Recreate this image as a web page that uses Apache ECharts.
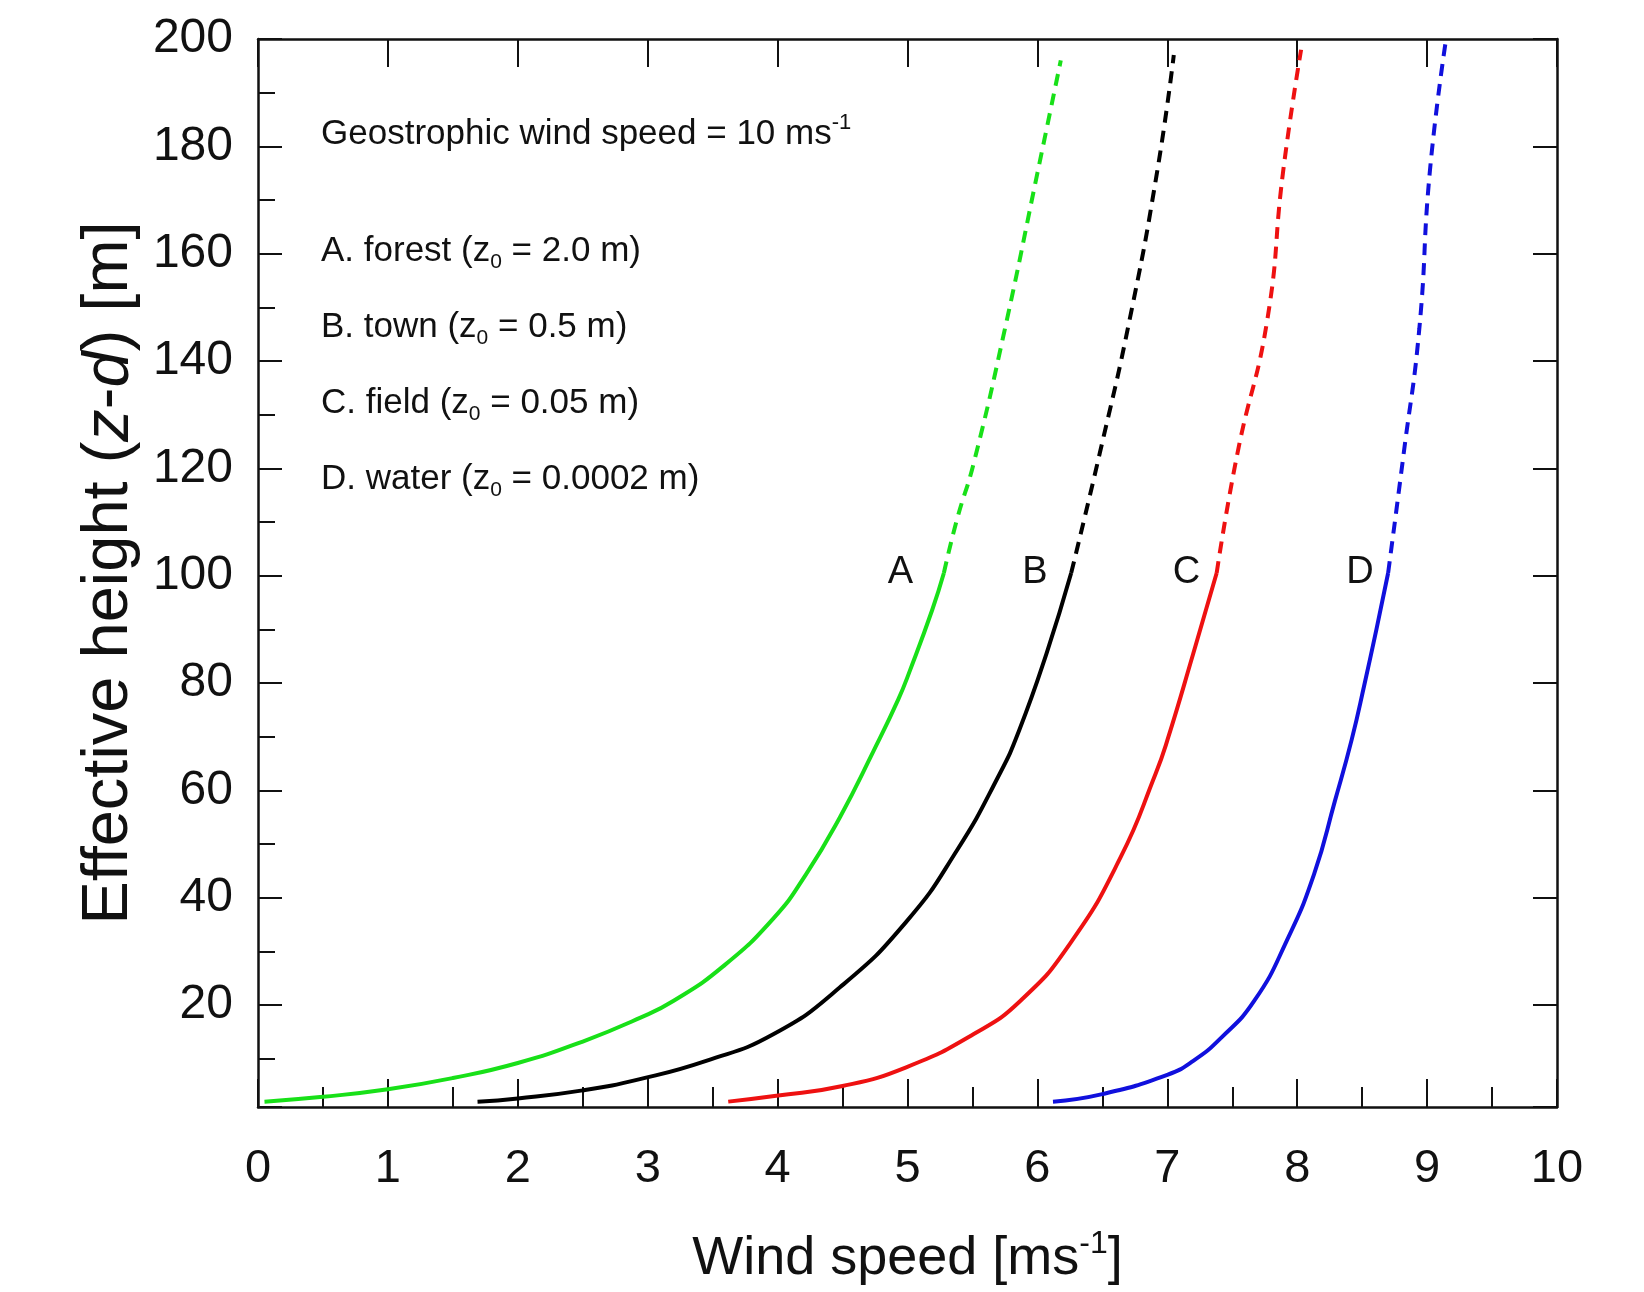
<!DOCTYPE html>
<html>
<head>
<meta charset="utf-8">
<script src="https://cdn.jsdelivr.net/npm/echarts@6/dist/echarts.min.js"></script>
<style>
  html, body { margin: 0; padding: 0; background: #fff; }
  #chart { width: 1644px; height: 1292px; }
</style>
</head>
<body>
<div id="chart"></div>
<script>
// wind profiles: [wind speed (m/s), height z-d (m)]
const forestSolid = [[0.05, 2.0], [0.5, 2.9], [1.0, 4.3], [1.5, 6.4], [2.0, 9.2], [2.5, 13.2], [2.94, 17.6],
  [3.2, 20.8], [3.58, 27.2], [3.97, 36.2], [4.22, 44.4], [4.48, 55.0], [4.74, 67.4], [4.93, 77.0],
  [5.02, 82.4], [5.19, 93.6], [5.28, 100.5]]
const forestDash = [[5.28, 100.5], [5.38, 110.4], [5.51, 121.0], [5.75, 146.0], [6.0, 175.0], [6.18, 196.0]]

const townSolid = [[1.69, 2.0], [2.0, 2.6], [2.5, 4.1], [2.94, 6.2], [3.45, 9.6], [3.97, 14.6], [4.48, 23.3],
  [4.99, 35.5], [5.38, 48.8], [5.71, 63.1], [5.86, 71.2], [6.07, 85.5], [6.26, 100.5]]
const townDash = [[6.26, 100.5], [6.48, 122.8], [6.71, 147.7], [6.92, 175.0], [7.05, 197.0]]

const fieldSolid = [[3.62, 2.0], [3.99, 3.1], [4.5, 4.9], [4.99, 8.4], [5.51, 14.6], [5.87, 20.8], [6.25, 31.4],
  [6.64, 47.5], [6.91, 63.1], [7.0, 69.3], [7.2, 85.5], [7.38, 100.5]]
const fieldDash = [[7.38, 100.5], [7.54, 122.8], [7.77, 147.7], [7.89, 175.0], [8.03, 198.0]]

const waterSolid = [[6.12, 2.0], [6.5, 3.4], [7.0, 7.0], [7.2, 9.6], [7.41, 13.8], [7.67, 20.8], [7.92, 32.0],
  [8.13, 44.4], [8.29, 58.0], [8.42, 69.5], [8.52, 80.0], [8.61, 90.0], [8.7, 100.5]]
const waterDash = [[8.7, 100.5], [8.82, 122.8], [8.94, 146.0], [9.02, 175.0], [9.14, 199.0]]

const curveLetters = ['A', 'B', 'C', 'D']
const curveColors = ['#18e018', '#000000', '#ee1111', '#1010dd']
const letterOffsets = [-56, -49, -44, -42]

const xRange = [0, 10]
const yRange = [1, 200]

const headerText = 'Geostrophic wind speed = 10 ms'
const headerSup = '-1'
const legendItems = [
  ['A. forest (z', '0', ' = 2.0 m)'],
  ['B. town (z', '0', ' = 0.5 m)'],
  ['C. field (z', '0', ' = 0.05 m)'],
  ['D. water (z', '0', ' = 0.0002 m)'],
]

const FONT = "'Liberation Sans', Arial, sans-serif"
const INK = '#111'

const chart = echarts.init(document.getElementById('chart'))

const solidSets = [forestSolid, townSolid, fieldSolid, waterSolid]
const dashSets = [forestDash, townDash, fieldDash, waterDash]

const series = []
solidSets.forEach((data, i) => {
  series.push({
    type: 'line',
    data,
    smooth: 0.5,
    symbol: 'none',
    lineStyle: { color: curveColors[i], width: 4 },
    endLabel: {
      show: true,
      formatter: curveLetters[i],
      color: INK,
      fontFamily: FONT,
      fontSize: 38,
      distance: 0,
      offset: [letterOffsets[i], 0],
    },
    z: 3,
  })
})
dashSets.forEach((data, i) => {
  series.push({
    type: 'line',
    data,
    smooth: 0.5,
    symbol: 'none',
    lineStyle: { color: curveColors[i], width: 4, type: [12, 8] },
    z: 3,
  })
})

const rowY = [134, 251, 327, 403, 479]
const richLegend = {
  t: { fontSize: 35, fontFamily: FONT, lineHeight: 44 },
  sub: { fontSize: 21, fontFamily: FONT, lineHeight: 10, verticalAlign: 'bottom' },
  sup: { fontSize: 22, fontFamily: FONT, lineHeight: 10, verticalAlign: 'top' },
}
const legendGraphics = [{
  type: 'text',
  x: 321,
  y: rowY[0],
  style: { text: `{t|${headerText}}{sup|${headerSup}}`, rich: richLegend, fill: INK, verticalAlign: 'middle' },
}]
legendItems.forEach((row, i) => {
  legendGraphics.push({
    type: 'text',
    x: 321,
    y: rowY[i + 1],
    style: { text: `{t|${row[0]}}{sub|${row[1]}}{t|${row[2]}}`, rich: richLegend, fill: INK, verticalAlign: 'middle' },
  })
})

const axisLine = { onZero: false, lineStyle: { color: INK, width: 2.5 } }
const majorTickX = { inside: true, length: 28, lineStyle: { color: INK, width: 2 } }
const majorTickY = { inside: true, length: 24, lineStyle: { color: INK, width: 2 } }

const option = {
  animation: false,
  backgroundColor: '#fff',
  grid: { left: 258, right: 87, top: 39, bottom: 185 },
  xAxis: [
    {
      type: 'value',
      min: xRange[0],
      max: xRange[1],
      interval: 1,
      name: '{t|Wind speed [ms}{sup|-1}{t|]}',
      nameLocation: 'middle',
      nameGap: 121,
      nameTextStyle: {
        color: INK,
        rich: {
          t: { fontSize: 54, fontFamily: FONT, color: INK, lineHeight: 62 },
          sup: { fontSize: 32, fontFamily: FONT, color: INK, lineHeight: 22, verticalAlign: 'top' },
        },
      },
      axisLine,
      axisTick: majorTickX,
      minorTick: { show: true, splitNumber: 2, length: 20, lineStyle: { color: INK, width: 2 } },
      axisLabel: { color: INK, fontSize: 47, fontFamily: FONT, margin: 39 },
      splitLine: { show: false },
    },
    {
      type: 'value',
      position: 'top',
      min: xRange[0],
      max: xRange[1],
      interval: 1,
      axisLine,
      axisTick: majorTickX,
      axisLabel: { show: false },
      splitLine: { show: false },
    },
  ],
  yAxis: [
    {
      type: 'value',
      position: 'left',
      min: yRange[0],
      max: yRange[1],
      splitNumber: 10,
      name: '{t|Effective height (}{i|z}{t|-}{i|d}{t|) [m]}',
      nameLocation: 'middle',
      nameRotate: 90,
      nameGap: 90,
      nameTextStyle: {
        color: INK,
        rich: {
          t: { fontSize: 65, fontFamily: FONT, color: INK },
          i: { fontSize: 65, fontFamily: FONT, color: INK, fontStyle: 'italic' },
        },
      },
      axisLine,
      axisTick: majorTickY,
      minorTick: { show: true, splitNumber: 2, length: 17, lineStyle: { color: INK, width: 2 } },
      axisLabel: {
        color: INK,
        fontSize: 48,
        fontFamily: FONT,
        margin: 25,
        formatter: v => (v < 20 ? '' : String(v)),
      },
      splitLine: { show: false },
    },
    {
      type: 'value',
      position: 'right',
      min: yRange[0],
      max: yRange[1],
      splitNumber: 10,
      axisLine,
      axisTick: majorTickY,
      axisLabel: { show: false },
      splitLine: { show: false },
    },
  ],
  graphic: legendGraphics,
  series,
}

chart.setOption(option)
</script>
</body>
</html>
